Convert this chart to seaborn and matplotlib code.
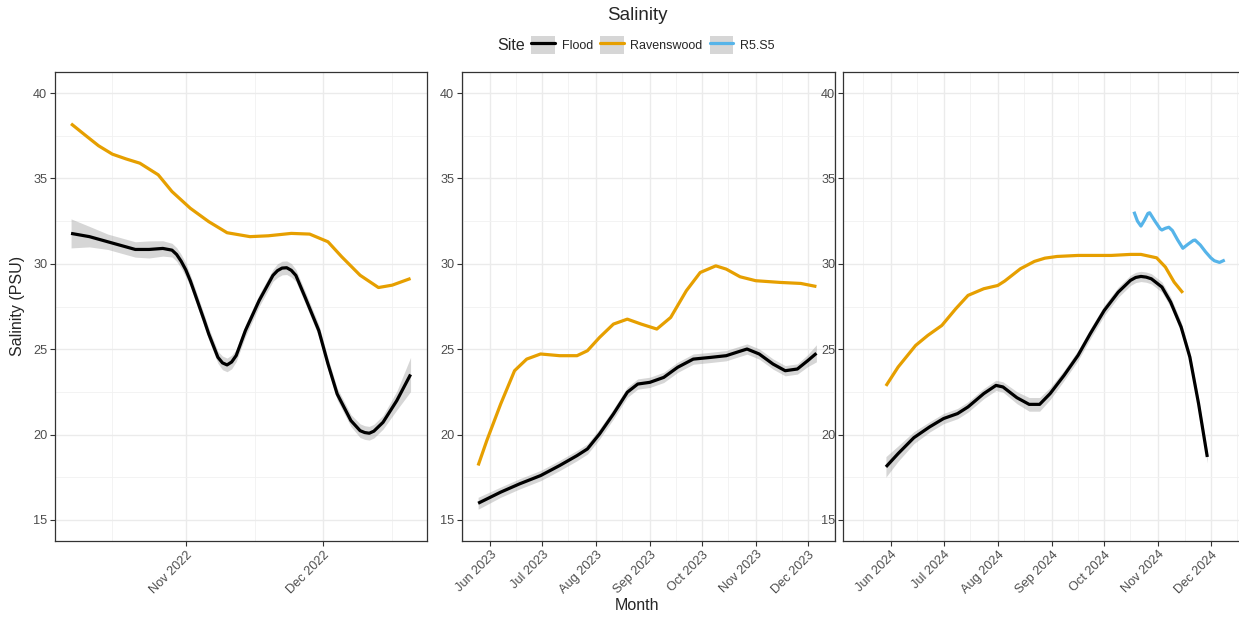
import numpy as np
import pandas as pd
import matplotlib
matplotlib.use("Agg")
import matplotlib.pyplot as plt
import matplotlib.dates as mdates
from matplotlib.lines import Line2D
from matplotlib.patches import Patch
from matplotlib.ticker import MultipleLocator
import seaborn as sns

sns.set_style("white")
plt.rcParams['font.family'] = ['Liberation Sans', 'DejaVu Sans']

# ---------------- data ----------------
sites = ["Flood", "Ravenswood", "R5.S5"]
site_colors = ["#000000", "#E69F00", "#56B4E9"]

# Panel 1 (2022)
p1_flood_dates = ["2022-10-07", "2022-10-11", "2022-10-15", "2022-10-21", "2022-10-24", "2022-10-27",
                  "2022-10-29", "2022-10-30", "2022-10-31", "2022-11-01", "2022-11-02", "2022-11-03",
                  "2022-11-05", "2022-11-06", "2022-11-08", "2022-11-09", "2022-11-10", "2022-11-11",
                  "2022-11-12", "2022-11-14", "2022-11-17", "2022-11-20", "2022-11-21", "2022-11-22",
                  "2022-11-23", "2022-11-24", "2022-11-25", "2022-11-27", "2022-11-30", "2022-12-02",
                  "2022-12-04", "2022-12-07", "2022-12-09", "2022-12-10", "2022-12-11", "2022-12-12",
                  "2022-12-14", "2022-12-17", "2022-12-20"]
p1_flood_vals = [31.78, 31.59, 31.29, 30.84, 30.84, 30.90, 30.80, 30.55, 30.15, 29.65, 29.00, 28.24,
                 26.70, 25.90, 24.53, 24.20, 24.08, 24.25, 24.63, 26.09, 27.85, 29.32, 29.60, 29.75,
                 29.77, 29.62, 29.32, 28.05, 26.09, 24.14, 22.38, 20.82, 20.23, 20.12, 20.08, 20.20,
                 20.72, 21.99, 23.52]
p1_flood_se = [0.85, 0.6, 0.45, 0.45, 0.5, 0.45, 0.4, 0.4, 0.4, 0.4, 0.35, 0.35,
               0.35, 0.35, 0.35, 0.4, 0.4, 0.4, 0.35, 0.35, 0.35, 0.35, 0.4, 0.4,
               0.4, 0.4, 0.35, 0.35, 0.35, 0.35, 0.35, 0.35, 0.4, 0.4, 0.4, 0.4,
               0.4, 0.55, 1.0]
p1_raven_dates = ["2022-10-07", "2022-10-10", "2022-10-13", "2022-10-16", "2022-10-19", "2022-10-22",
                  "2022-10-26", "2022-10-29", "2022-11-02", "2022-11-06", "2022-11-10", "2022-11-15",
                  "2022-11-19", "2022-11-24", "2022-11-28", "2022-12-02", "2022-12-05", "2022-12-09",
                  "2022-12-13", "2022-12-16", "2022-12-20"]
p1_raven_vals = [38.20, 37.55, 36.91, 36.42, 36.14, 35.89, 35.21, 34.23, 33.25, 32.47, 31.82, 31.59,
                 31.64, 31.78, 31.74, 31.29, 30.41, 29.33, 28.61, 28.75, 29.14]

# Panel 2 (2023)
p2_flood_dates = ["2023-05-25", "2023-06-07", "2023-06-18", "2023-06-30", "2023-07-11", "2023-07-21",
                  "2023-07-27", "2023-08-03", "2023-08-11", "2023-08-19", "2023-08-25", "2023-09-01",
                  "2023-09-09", "2023-09-17", "2023-09-26", "2023-10-06", "2023-10-15", "2023-10-22",
                  "2023-10-27", "2023-11-03", "2023-11-11", "2023-11-18", "2023-11-25", "2023-12-01",
                  "2023-12-06"]
p2_flood_vals = [15.98, 16.63, 17.12, 17.60, 18.19, 18.77, 19.16, 20.04, 21.21, 22.48, 22.96, 23.06,
                 23.35, 23.94, 24.42, 24.52, 24.62, 24.85, 25.01, 24.72, 24.13, 23.74, 23.84, 24.33,
                 24.76]
p2_flood_se = [0.35, 0.3, 0.3, 0.3, 0.3, 0.3, 0.3, 0.3, 0.3, 0.3, 0.3, 0.3,
               0.3, 0.3, 0.3, 0.3, 0.3, 0.3, 0.3, 0.3, 0.3, 0.3, 0.3, 0.35, 0.5]
p2_raven_dates = ["2023-05-25", "2023-05-30", "2023-06-07", "2023-06-15", "2023-06-22", "2023-06-30",
                  "2023-07-11", "2023-07-21", "2023-07-27", "2023-08-03", "2023-08-11", "2023-08-19",
                  "2023-08-27", "2023-09-05", "2023-09-13", "2023-09-22", "2023-09-30", "2023-10-09",
                  "2023-10-15", "2023-10-23", "2023-11-01", "2023-11-15", "2023-11-27", "2023-12-06"]
p2_raven_vals = [18.19, 19.65, 21.79, 23.74, 24.42, 24.72, 24.62, 24.62, 24.91, 25.69, 26.47, 26.76,
                 26.47, 26.18, 26.86, 28.42, 29.49, 29.88, 29.69, 29.24, 29.01, 28.91, 28.85, 28.67]

# Panel 3 (2024)
p3_flood_dates = ["2024-05-29", "2024-06-05", "2024-06-14", "2024-06-23", "2024-07-01", "2024-07-09",
                  "2024-07-15", "2024-07-24", "2024-07-31", "2024-08-04", "2024-08-12", "2024-08-19",
                  "2024-08-25", "2024-08-31", "2024-09-08", "2024-09-16", "2024-09-23", "2024-10-01",
                  "2024-10-09", "2024-10-16", "2024-10-19", "2024-10-22", "2024-10-25", "2024-10-28",
                  "2024-11-03", "2024-11-08", "2024-11-14", "2024-11-19", "2024-11-24", "2024-11-29"]
p3_flood_vals = [18.11, 18.89, 19.82, 20.45, 20.94, 21.23, 21.62, 22.40, 22.88, 22.79, 22.16, 21.77,
                 21.77, 22.40, 23.47, 24.64, 25.91, 27.27, 28.34, 29.03, 29.20, 29.26, 29.22, 29.12,
                 28.64, 27.76, 26.30, 24.54, 21.81, 18.69]
p3_flood_se = [0.6, 0.45, 0.35, 0.3, 0.3, 0.3, 0.3, 0.3, 0.3, 0.3, 0.35, 0.4,
               0.4, 0.35, 0.3, 0.3, 0.3, 0.3, 0.3, 0.3, 0.3, 0.3, 0.3, 0.3,
               0.3, 0.3, 0.3, 0.3, 0.3, 0.35]
p3_raven_dates = ["2024-05-29", "2024-06-05", "2024-06-15", "2024-06-22", "2024-06-30", "2024-07-08",
                  "2024-07-15", "2024-07-24", "2024-08-01", "2024-08-05", "2024-08-14", "2024-08-22",
                  "2024-08-28", "2024-09-04", "2024-09-16", "2024-10-05", "2024-10-16", "2024-10-22",
                  "2024-10-31", "2024-11-05", "2024-11-10", "2024-11-15"]
p3_raven_vals = [22.85, 23.96, 25.22, 25.81, 26.39, 27.37, 28.15, 28.54, 28.73, 28.99, 29.71, 30.14,
                 30.33, 30.43, 30.49, 30.49, 30.55, 30.55, 30.35, 29.81, 28.93, 28.30]
p3_r5_dates = ["2024-10-18", "2024-10-20", "2024-10-22", "2024-10-24", "2024-10-26", "2024-10-27",
               "2024-10-30", "2024-11-02", "2024-11-03", "2024-11-05", "2024-11-07", "2024-11-09",
               "2024-11-12", "2024-11-15", "2024-11-18", "2024-11-21", "2024-11-22", "2024-11-25",
               "2024-11-28", "2024-12-01", "2024-12-03", "2024-12-06", "2024-12-09"]
p3_r5_vals = [33.05, 32.50, 32.21, 32.55, 32.95, 32.99, 32.50, 32.05, 31.98, 32.08, 32.14, 31.95,
              31.40, 30.91, 31.15, 31.37, 31.39, 31.10, 30.70, 30.35, 30.18, 30.08, 30.22]

# axis settings
y_ticks = [15, 20, 25, 30, 35, 40]
y_limits = (13.77, 41.23)
x_limits = [("2022-10-03 12:00", "2022-12-23 14:00"),
            ("2023-05-15 17:00", "2023-12-16 17:00"),
            ("2024-05-04 10:00", "2024-12-20 14:00")]

# ---------------- build long table ----------------
rows = []
def add(panel, site, dates, vals, se=None):
    for i, (d, v) in enumerate(zip(dates, vals)):
        rows.append({"panel": panel, "site": site, "date": pd.Timestamp(d), "salinity": v,
                     "se": (se[i] if se is not None else 0.0)})

add(0, "Flood", p1_flood_dates, p1_flood_vals, p1_flood_se)
add(0, "Ravenswood", p1_raven_dates, p1_raven_vals)
add(1, "Flood", p2_flood_dates, p2_flood_vals, p2_flood_se)
add(1, "Ravenswood", p2_raven_dates, p2_raven_vals)
add(2, "Flood", p3_flood_dates, p3_flood_vals, p3_flood_se)
add(2, "Ravenswood", p3_raven_dates, p3_raven_vals)
add(2, "R5.S5", p3_r5_dates, p3_r5_vals)
df = pd.DataFrame(rows)
palette = dict(zip(sites, site_colors))

# ---------------- figure ----------------
W, H = 1239, 617
fig = plt.figure(figsize=(W / 100, H / 100), dpi=100)
panel_px = [(55, 427), (462, 835), (843, 1245)]
top_px, bot_px = 72, 541

for p, (l, r) in enumerate(panel_px):
    ax = fig.add_axes([l / W, (H - bot_px) / H, (r - l) / W, (bot_px - top_px) / H])
    sub = df[df.panel == p]
    # confidence ribbons
    for site in sites:
        s = sub[sub.site == site]
        if len(s) and s.se.max() > 0:
            ax.fill_between(s.date, s.salinity - s.se, s.salinity + s.se,
                            color="#999999", alpha=0.4, linewidth=0, zorder=2)
    sns.lineplot(data=sub, x="date", y="salinity", hue="site", palette=palette,
                 hue_order=[s for s in sites if s in sub.site.unique()],
                 estimator=None, sort=True, linewidth=2.3, legend=False, ax=ax, zorder=3)
    for ln in ax.lines:
        ln.set_solid_joinstyle("round")
        ln.set_solid_capstyle("butt")

    ax.set_xlim(pd.Timestamp(x_limits[p][0]), pd.Timestamp(x_limits[p][1]))
    ax.set_ylim(*y_limits)
    ax.set_yticks(y_ticks)
    ax.yaxis.set_minor_locator(MultipleLocator(2.5))
    ax.xaxis.set_major_locator(mdates.MonthLocator())
    ax.xaxis.set_minor_locator(mdates.MonthLocator(bymonthday=16))
    ax.xaxis.set_major_formatter(mdates.DateFormatter("%b %Y"))
    ax.set_axisbelow(True)
    ax.grid(which="major", color="#EBEBEB", linewidth=1.0)
    ax.grid(which="minor", color="#F1F1F1", linewidth=0.6)
    ax.tick_params(which="major", length=3.5, width=0.8, color="#333333",
                   labelsize=9.2, labelcolor="#4D4D4D", bottom=True, left=True, pad=2)
    ax.tick_params(which="minor", length=0)
    for sp in ax.spines.values():
        sp.set_color("#333333")
        sp.set_linewidth(0.9)
    ax.set_xlabel("")
    ax.set_ylabel("")
    plt.setp(ax.get_xticklabels(), rotation=45, ha="right", rotation_mode="anchor")

fig.text(18 / W, 1 - 306 / H, "Salinity (PSU)", rotation=90, ha="center", va="center", fontsize=11.5)
fig.text(637 / W, 1 - 605 / H, "Month", ha="center", va="center", fontsize=11.5)
fig.text(637 / W, 1 - 15 / H, "Salinity", ha="center", va="center", fontsize=13.5)
fig.text(497 / W, 1 - 45 / H, "Site", ha="left", va="center", fontsize=11.5)

handles = [(Patch(facecolor="#D6D6D6", edgecolor="none"), Line2D([], [], color=c, lw=2.3))
           for c in site_colors]
fig.legend(handles, sites, ncol=3, loc="center left", bbox_to_anchor=(531 / W, 1 - 45 / H),
           frameon=False, fontsize=9, handlelength=1.9, handleheight=1.75,
           columnspacing=0.55, handletextpad=0.55, borderpad=0, borderaxespad=0)

fig.savefig("out.png", dpi=100)
